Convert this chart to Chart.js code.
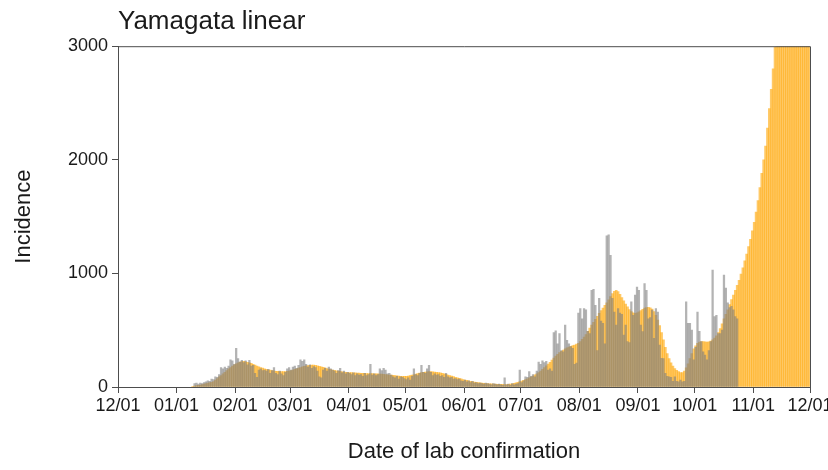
<!DOCTYPE html>
<html>
<head>
<meta charset="utf-8">
<script src="https://cdn.jsdelivr.net/npm/chart.js@4/dist/chart.umd.min.js"></script>
<style>
  html, body { margin: 0; padding: 0; background: #fff; }
  #wrap { width: 828px; height: 470px; }
</style>
</head>
<body>
<div id="wrap"><canvas id="incidenceChart" width="828" height="470"></canvas></div>
<script>
// Day 0 = 12/01; month boundaries in days and their labels
const monthStarts = [0, 31, 62, 91, 122, 152, 183, 213, 244, 275, 305, 336, 366];
const monthLabels = ['12/01', '01/01', '02/01', '03/01', '04/01', '05/01', '06/01',
                     '07/01', '08/01', '09/01', '10/01', '11/01', '12/01'];
const yTicks = [0, 1000, 2000, 3000];

// Daily lab-confirmed cases, first value is day 40
const observedStart = 40;
const observed = [
  30, 35, 25, 35, 30, 40, 45, 55, 50, 70,
  65, 90, 85, 110, 170, 160, 175, 165, 185, 240,
  230, 200, 340, 250, 220, 235, 215, 230, 195, 235,
  185, 190, 120, 85, 150, 160, 145, 150, 140, 155,
  120, 145, 170, 120, 110, 140, 115, 100, 130, 160,
  170, 150, 175, 185, 165, 190, 240, 225, 240, 200,
  175, 195, 165, 180, 170, 140, 90, 80, 150, 165,
  140, 175, 160, 150, 140, 120, 145, 165, 125, 140,
  115, 130, 120, 110, 125, 100, 115, 105, 110, 95,
  120, 100, 110, 200, 105, 115, 100, 110, 160, 145,
  165, 150, 115, 120, 105, 90, 80, 95, 70, 90,
  85, 75, 65, 80, 60, 95, 160, 110, 100, 120,
  190, 130, 120, 160, 190, 130, 100, 115, 105, 110,
  95, 100, 85, 120, 90, 80, 85, 70, 75, 65,
  70, 55, 50, 60, 45, 55, 40, 50, 35, 40,
  30, 35, 30, 25, 35, 30, 25, 20, 30, 25,
  20, 25, 20, 15, 80, 20, 25, 15, 30, 20,
  25, 30, 150, 40, 55, 90, 85, 135, 95, 110,
  90, 140, 220, 200, 230, 215, 225, 150, 160, 140,
  480, 495, 380, 470, 320, 310, 545, 410, 380, 355,
  340, 200, 210, 650, 690, 600, 690, 680, 490, 470,
  850, 860, 720, 320, 780, 580, 560, 380, 1330, 1340,
  1160, 780, 660, 545, 690, 650, 640, 457, 545, 400,
  390, 750, 630, 810, 880, 850, 545, 487, 910, 850,
  600, 610, 677, 428, 690, 660, 370, 252, 250, 120,
  95, 90, 85, 50, 90, 50, 45, 60, 45, 50,
  750, 560, 560, 500, 240, 350, 660, 490, 400, 310,
  280, 240, 320, 400, 1030, 620, 630, 470, 470, 500,
  985, 870, 740, 700, 710, 680, 620, 600
];

// Model incidence (linear fit), first value is day 39
const fittedStart = 39;
const fitted = [
  5,
  8, 12, 15, 18, 22, 26, 30, 34, 38, 42,
  48, 60, 75, 90, 100, 115, 130, 145, 160, 172,
  185, 195, 205, 213, 220, 224, 225, 222, 218, 213,
  208, 200, 192, 185, 178, 172, 166, 160, 156, 152,
  148, 145, 142, 139, 137, 136, 135, 135, 136, 138,
  141, 145, 150, 155, 160, 166, 172, 177, 182, 186,
  189, 191, 192, 192, 190, 187, 183, 178, 173, 168,
  163, 158, 154, 150, 146, 143, 140, 137, 134, 132,
  130, 128, 127, 126, 125, 124, 123, 122, 121, 120,
  120, 119, 119, 118, 118, 117, 116, 115, 114, 113,
  112, 110, 108, 106, 104, 102, 100, 98, 96, 95,
  94, 94, 95, 97, 100, 104, 108, 113, 118, 122,
  126, 129, 132, 134, 135, 135, 134, 132, 130, 127,
  124, 120, 116, 111, 106, 101, 96, 91, 86, 81,
  76, 71, 66, 62, 58, 54, 50, 47, 44, 41,
  39, 37, 35, 33, 31, 30, 28, 27, 26, 25,
  24, 24, 23, 23, 22, 22, 23, 25, 28, 32,
  37, 42, 47, 52, 58, 65, 72, 80, 88, 97,
  107, 117, 128, 140, 155, 170, 186, 202, 218, 236,
  255, 272, 288, 302, 315, 326, 336, 345, 352, 358,
  364, 370, 377, 385, 400, 420, 440, 462, 490, 518,
  545, 570, 596, 622, 648, 672, 694, 718, 742, 768,
  795, 822, 842, 850, 840, 815, 788, 758, 730, 705,
  682, 664, 652, 648, 652, 662, 672, 684, 694, 700,
  702, 698, 686, 665, 630, 590, 540, 480, 415, 350,
  295, 250, 212, 185, 162, 146, 135, 128, 128, 140,
  168, 205, 250, 295, 335, 362, 385, 396, 400, 400,
  398, 396, 398, 404, 415, 430, 450, 480, 515, 555,
  600, 640, 680, 725, 770, 810, 850, 895, 940, 995,
  1050, 1110, 1170, 1235, 1300, 1375, 1450, 1540, 1640, 1755,
  1880, 2000, 2120, 2280, 2450, 2620, 2800, 2990, 3180, 3380,
  3590, 3810, 4040, 4280, 4530, 4790, 5060, 5340, 5630, 5930,
  6240, 6560, 6890, 7230, 7580, 7940
];

const FONT = "'Liberation Sans', Arial, Helvetica, sans-serif";
const AXIS_COLOR = '#4d4d4d';
const TEXT_COLOR = '#1a1a1a';

// Each bar sits in the middle of its day
const toPoints = (values, start) => values.map((v, k) => ({ x: start + k + 0.5, y: v }));

// Closes the panel with top and right border lines
const panelFrame = {
  id: 'panelFrame',
  afterDraw(chart) {
    const { ctx, chartArea: a } = chart;
    ctx.save();
    ctx.strokeStyle = AXIS_COLOR;
    ctx.lineWidth = 1;
    ctx.beginPath();
    ctx.moveTo(a.left, a.top + 0.5);
    ctx.lineTo(a.right + 0.5, a.top + 0.5);
    ctx.lineTo(a.right + 0.5, a.bottom);
    ctx.stroke();
    ctx.restore();
  }
};

const ctx = document.getElementById('incidenceChart').getContext('2d');
new Chart(ctx, {
  type: 'bar',
  data: {
    datasets: [
      {
        label: 'Observed',
        data: toPoints(observed, observedStart),
        backgroundColor: 'rgba(128, 128, 128, 0.6)',
        barThickness: 1.6,
        grouped: false,
        order: 0
      },
      {
        label: 'Fitted',
        data: toPoints(fitted, fittedStart),
        backgroundColor: 'rgba(255, 165, 0, 0.6)',
        barThickness: 2.0,
        grouped: false,
        order: 1
      }
    ]
  },
  options: {
    responsive: false,
    animation: false,
    layout: { padding: { top: 0, right: 18, bottom: 0, left: 0 } },
    plugins: {
      legend: { display: false },
      tooltip: { enabled: false },
      title: {
        display: true,
        text: 'Yamagata linear',
        align: 'start',
        fullSize: false,
        color: TEXT_COLOR,
        font: { family: FONT, size: 26, weight: 'normal' },
        padding: { top: 6, bottom: 9 }
      }
    },
    scales: {
      x: {
        type: 'linear',
        min: 0,
        max: 366,
        offset: false,
        afterBuildTicks: axis => { axis.ticks = monthStarts.map(v => ({ value: v })); },
        afterFit: s => { s.height = 83; s.paddingLeft = 0; s.paddingRight = 0; },
        ticks: {
          autoSkip: false,
          maxRotation: 0,
          padding: 2,
          color: TEXT_COLOR,
          font: { family: FONT, size: 18 },
          callback: v => monthLabels[monthStarts.indexOf(v)]
        },
        grid: { drawOnChartArea: false, offset: false, tickLength: 6, color: AXIS_COLOR },
        border: { color: AXIS_COLOR },
        title: {
          display: true,
          text: 'Date of lab confirmation',
          color: TEXT_COLOR,
          font: { family: FONT, size: 22 },
          padding: { top: 0, bottom: 5 }
        }
      },
      y: {
        min: 0,
        max: 3000,
        afterBuildTicks: axis => { axis.ticks = yTicks.map(v => ({ value: v })); },
        afterFit: s => { s.width = 118; s.paddingTop = 0; s.paddingBottom = 0; },
        ticks: {
          padding: 4,
          color: TEXT_COLOR,
          font: { family: FONT, size: 18 },
          callback: v => String(v)
        },
        grid: { drawOnChartArea: false, tickLength: 6, color: AXIS_COLOR },
        border: { color: AXIS_COLOR },
        title: {
          display: true,
          text: 'Incidence',
          color: TEXT_COLOR,
          font: { family: FONT, size: 22 },
          padding: { top: 11, bottom: 0 }
        }
      }
    }
  },
  plugins: [panelFrame]
});
</script>
</body>
</html>
